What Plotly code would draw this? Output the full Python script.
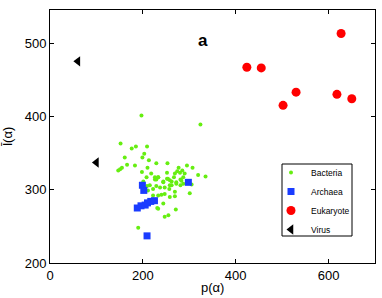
import plotly.graph_objects as go

bacteria_x = [197, 324, 152, 176, 185, 209, 203, 199, 161, 213, 253, 166, 183, 229, 210, 155, 151, 147,
              277, 295, 307, 198, 218, 252, 269, 274, 280, 285, 290, 319, 335, 208, 233, 226, 244, 252,
              258, 267, 281, 287, 272, 281, 305, 262, 247, 257, 209, 229, 237, 201, 301, 244, 233, 271,
              247, 255, 190, 229, 244, 254, 262, 258, 272, 283, 287, 222, 233, 247, 258, 269, 269, 240,
              231, 222, 211, 215, 226, 233]
bacteria_y = [401, 389, 363, 356, 359, 359, 349, 344, 344, 340, 336, 334, 333, 336, 330, 330, 328, 326,
              330, 333, 330, 324, 322, 323, 322, 325, 323, 326, 322, 320, 318, 317, 317, 314, 310, 315,
              313, 317, 314, 317, 310, 306, 307, 306, 303, 301, 305, 305, 303, 311, 295, 281, 274, 273,
              263, 265, 248, 314, 311, 315, 311, 306, 308, 312, 308, 292, 292, 294, 290, 291, 297, 293,
              275, 301, 299, 306, 317, 317]

archaea_x = [199, 202, 188, 196, 205, 210, 217, 225, 298, 209]
archaea_y = [306, 299, 275, 278, 279, 282, 284, 285, 310, 237]

eukaryote_x = [424, 455, 627, 530, 502, 618, 650]
eukaryote_y = [467, 466, 513, 433, 415, 430, 424]

virus_x = [60, 100]
virus_y = [475, 337]

x_ticks = [0, 200, 400, 600]
y_ticks = [200, 300, 400, 500]

FONT = "Liberation Sans"

fig = go.Figure()
fig.add_trace(go.Scatter(x=bacteria_x, y=bacteria_y, mode="markers", name="Bacteria",
                         marker=dict(color="#66ee11", size=4, symbol="circle")))
fig.add_trace(go.Scatter(x=archaea_x, y=archaea_y, mode="markers", name="Archaea",
                         marker=dict(color="#1a3cff", size=7, symbol="square")))
fig.add_trace(go.Scatter(x=eukaryote_x, y=eukaryote_y, mode="markers", name="Eukaryote",
                         marker=dict(color="#ff0000", size=9, symbol="circle")))
fig.add_trace(go.Scatter(x=virus_x, y=virus_y, mode="markers", name="Virus",
                         marker=dict(color="#000000", size=9, symbol="triangle-left")))

fig.add_annotation(x=329, y=504, text="<b>a</b>", showarrow=False,
                   font=dict(size=17, color="black", family=FONT))
# axis titles
fig.add_annotation(xref="paper", yref="paper", x=0.5, y=-0.06, yanchor="top", xanchor="center",
                   text="p(α)", showarrow=False, font=dict(size=13, color="black", family=FONT))
fig.add_annotation(xref="paper", yref="paper", x=-0.13, y=0.5, xanchor="center", yanchor="middle",
                   text="l\u0304(α)", textangle=-90, showarrow=False,
                   font=dict(size=13, color="black", family=FONT))

# legend frame
fig.add_shape(type="rect", xref="paper", yref="paper",
              x0=(282 - 50) / 325, x1=(352 - 50) / 325,
              y0=(263 - 236) / 253, y1=(263 - 164) / 253,
              line=dict(color="black", width=1), fillcolor="rgba(0,0,0,0)", layer="above")

axis_common = dict(showgrid=False, zeroline=False, showline=True, linecolor="black", linewidth=1,
                   mirror="ticks", ticks="inside", ticklen=4, tickcolor="black", automargin=False,
                   tickfont=dict(size=13, color="black", family=FONT))

fig.update_xaxes(range=[0, 700], tickvals=x_ticks, **axis_common)
fig.update_yaxes(range=[200, 545], tickvals=y_ticks, **axis_common)

fig.update_layout(
    width=382, height=298,
    margin=dict(l=50, r=7, t=10, b=35),
    plot_bgcolor="white", paper_bgcolor="white",
    showlegend=True,
    legend=dict(x=(271 - 50) / 325, y=(263 - 158) / 253, xanchor="left", yanchor="top",
                borderwidth=0, bgcolor="rgba(0,0,0,0)",
                font=dict(size=8.5, color="black", family=FONT),
                itemwidth=30, tracegroupgap=0),
)

fig.write_html("out.html", config={"responsive": False, "displayModeBar": False},
               post_script="document.body.style.margin='0';document.body.style.overflow='hidden';")
